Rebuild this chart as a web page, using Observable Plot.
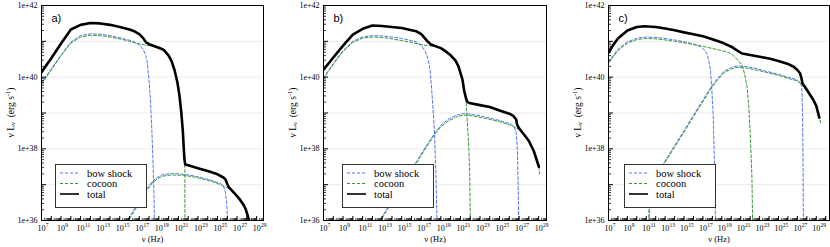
<!DOCTYPE html>
<html><head><meta charset="utf-8">
<script src="https://cdn.jsdelivr.net/npm/d3@7"></script>
<script src="https://cdn.jsdelivr.net/npm/@observablehq/plot@0.6"></script>
<style>
body{margin:0;background:#fff;}
#chart{position:relative;width:830px;height:247px;overflow:hidden;background:#fff;}
.panel{position:absolute;top:0;}
.panel svg{max-width:none !important;display:block;}
</style></head><body><div id="chart"></div>
<script>
// ---- data: [log10(nu / Hz), log10(nu L_nu / erg s^-1)] ----
const aTotal = [[7,40.14],[8,40.53],[9,40.94],[10,41.33],[11,41.46],[12,41.51],[13,41.5],[14,41.46],[15,41.4],[16,41.33],[16.5,41.28],[17,41.2],[17.4,41.09],[17.7,40.97],[18,40.92],[18.5,40.87],[19,40.82],[19.5,40.76],[20,40.6],[20.3,40.45],[20.6,40.2],[20.9,39.85],[21.1,39.5],[21.3,39.0],[21.45,38.5],[21.55,38.0],[21.62,37.7],[21.7,37.56],[22,37.54],[23,37.46],[24,37.38],[25,37.29],[25.6,37.2],[25.8,37.15],[26.0,37.02],[26.15,36.93],[26.6,36.8],[27.0,36.68],[27.35,36.56],[27.7,36.42],[27.9,36.3],[28.1,36.12],[28.25,35.95],[28.35,35.8]];
const aBowSync = [[7,39.84],[8,40.23],[9,40.62],[10,40.98],[11,41.16],[12,41.21],[13,41.2],[14,41.16],[15,41.1],[16,41.03],[16.5,40.98],[17,40.9],[17.4,40.78],[17.65,40.6],[17.8,40.44],[18,39.9],[18.15,39.33],[18.3,38.4],[18.42,37.48],[18.5,36.7],[18.56,35.8]];
const aBowIC = [[15.6,35.93],[16.5,36.32],[17.2,36.63],[17.8,36.89],[18.3,37.08],[18.83,37.2],[19.3,37.27],[19.85,37.3],[20.5,37.31],[21.5,37.29],[22.5,37.25],[23.3,37.2],[24.3,37.13],[25.3,37.03],[25.6,36.97],[25.8,36.78],[25.95,36.45],[26.05,35.8]];
const aCocSync = [[7,39.8],[8,40.2],[9,40.6],[10,40.95],[11,41.12],[12,41.17],[13,41.16],[14,41.12],[15,41.07],[16,41.0],[17,40.93],[17.5,40.9],[18,40.88],[18.5,40.85],[19,40.8],[19.5,40.74],[20,40.58],[20.3,40.44],[20.6,40.19],[20.9,39.84],[21.1,39.49],[21.3,38.99],[21.45,38.49],[21.55,37.99],[21.62,37.69],[21.66,37.55],[21.67,35.8]];
const aCocIC = [[15.75,35.93],[16.5,36.27],[17.2,36.58],[17.8,36.85],[18.3,37.04],[18.83,37.16],[19.3,37.23],[19.85,37.26],[20.5,37.27],[21.5,37.26],[22.5,37.22],[23.3,37.17],[24.3,37.1],[25.3,37.0],[25.6,36.96],[26.15,36.9],[26.6,36.78],[27.0,36.66],[27.35,36.54],[27.7,36.4],[27.9,36.28],[28.1,36.1],[28.25,35.93],[28.35,35.8]];

const bTotal = [[7,40.21],[8,40.55],[9,40.88],[10,41.19],[11,41.35],[12,41.44],[13,41.43],[14,41.4],[15,41.37],[16,41.31],[16.5,41.28],[17,41.2],[17.35,41.09],[17.7,40.98],[18,40.91],[18.5,40.86],[19,40.81],[19.5,40.72],[20,40.61],[20.5,40.46],[20.8,40.3],[21,40.12],[21.2,39.94],[21.4,39.6],[21.55,39.43],[21.7,39.31],[21.9,39.28],[23,39.22],[24,39.17],[25,39.07],[26,38.98],[26.4,38.92],[26.7,38.82],[26.8,38.67],[27,38.57],[27.5,38.4],[28,38.22],[28.5,37.94],[29.02,37.5]];
const bBowSync = [[7,39.98],[8,40.38],[9,40.74],[10,41.0],[11,41.12],[12,41.16],[13,41.15],[14,41.12],[15,41.08],[16,41.02],[16.5,40.98],[17,40.88],[17.4,40.72],[17.7,40.5],[17.9,40.2],[18.05,39.7],[18.2,39.1],[18.36,38.41],[18.5,37.2],[18.62,35.8]];
const bBowIC = [[12.6,35.94],[13.5,36.33],[14.5,36.77],[15.5,37.2],[16.5,37.64],[17.5,38.08],[18.36,38.43],[19,38.66],[19.73,38.82],[20.5,38.93],[21.27,38.98],[22,38.97],[23,38.92],[23.83,38.87],[25,38.79],[26.2,38.69],[26.5,38.62],[26.7,38.45],[26.82,38.0],[26.9,37.0],[26.97,35.8]];
const bCocSync = [[7,39.96],[8,40.36],[9,40.72],[10,40.97],[11,41.09],[12,41.12],[13,41.11],[14,41.07],[15,41.02],[16,40.97],[17,40.91],[18,40.87],[18.5,40.85],[19,40.8],[19.5,40.71],[20,40.6],[20.5,40.45],[20.8,40.29],[21,40.11],[21.2,39.93],[21.4,39.59],[21.55,39.42],[21.65,39.0],[21.78,38.41],[21.88,37.9],[21.95,37.3],[22.02,35.8]];
const bCocIC = [[12.75,35.95],[13.5,36.29],[14.5,36.73],[15.5,37.16],[16.5,37.6],[17.5,38.04],[18.36,38.4],[19,38.62],[19.73,38.77],[20.5,38.88],[21.27,38.94],[22,38.93],[23,38.88],[23.83,38.83],[25,38.76],[26.2,38.65],[26.7,38.58],[27,38.55],[27.5,38.39],[28,38.21],[28.5,37.93],[29.02,37.5],[29.1,37.3]];

const cTotal = [[7,40.68],[7.5,40.9],[8,41.08],[9,41.3],[10,41.4],[10.8,41.42],[12,41.4],[13,41.36],[14,41.31],[15,41.25],[16,41.2],[17,41.14],[18,41.06],[19,40.97],[20,40.85],[20.6,40.75],[21.14,40.66],[22,40.62],[23,40.57],[24,40.52],[25,40.45],[26,40.37],[26.6,40.29],[27,40.2],[27.28,40.11],[27.45,39.95],[27.53,39.83],[28,39.65],[28.68,39.37],[29,39.2],[29.32,38.87]];
const cBowSync = [[7,40.43],[8,40.78],[9,40.98],[10,41.09],[11,41.12],[12,41.11],[13,41.08],[14,41.04],[15,40.99],[16,40.93],[16.75,40.85],[17.2,40.75],[17.46,40.64],[17.65,40.42],[17.8,40.2],[17.95,39.6],[18.09,38.91],[18.2,37.8],[18.28,36.8],[18.34,35.8]];
const cBowIC = [[11.3,35.8],[11.3,36.95],[12.89,37.62],[14,38.09],[15,38.51],[16,38.94],[17,39.36],[17.8,39.7],[18.5,39.95],[19.2,40.16],[20,40.27],[20.6,40.31],[21.5,40.3],[22.5,40.25],[23.77,40.16],[25,40.08],[26,40.0],[26.93,39.93],[27.3,39.85],[27.46,39.74],[27.55,39.0],[27.6,37.5],[27.64,35.8]];
const cCocSync = [[7,40.39],[8,40.74],[9,40.95],[10,41.05],[11,41.08],[12,41.07],[13,41.04],[14,41.0],[15,40.96],[16,40.91],[17,40.86],[18,40.8],[19,40.74],[19.5,40.71],[20,40.65],[20.5,40.53],[21.14,40.34],[21.4,40.1],[21.67,39.74],[21.85,39.2],[22.0,38.45],[22.1,37.8],[22.19,37.16],[22.27,35.8]];
const cCocIC = [[11.3,35.8],[11.3,36.93],[12.89,37.58],[14,38.05],[15,38.47],[16,38.9],[17,39.32],[17.8,39.66],[18.5,39.91],[19.2,40.12],[20,40.23],[20.6,40.27],[21.5,40.26],[22.5,40.21],[23.77,40.13],[25,40.05],[26,39.97],[26.9,39.9],[27.46,39.8],[28,39.63],[28.68,39.36],[29,39.19],[29.32,38.86],[29.46,38.73]];

// ---- tick / label values ----
const xLabelExps = [7,9,11,13,15,17,19,21,23,25,27,29];
const xDecadeExps = d3.range(7, 31);
const yLabelExps = [36,38,40,42];
const yDecadeExps = d3.range(36, 43);
const gridExps = [37,38,39,40,41];
const seriesNames = ["bow shock", "cocoon", "total"];
const panelLabels = ["a)", "b)", "c)"];
const xTitle = "ν (Hz)";

const H = 247, MT = 5, MB = 27;
const BLUE = "#5475f5", GREEN = "#389838";
const DASH = "3,2";

const panels = [
  {label: panelLabels[0], left: 0,   width: 280, ml: 41, mr: 17, xMax: 29.7, lgx: 14, total: aTotal, bow: [aBowSync, aBowIC], coc: [aCocSync, aCocIC]},
  {label: panelLabels[1], left: 280, width: 277, ml: 43, mr: 11, xMax: 29.8, lgx: 19, total: bTotal, bow: [bBowSync, bBowIC], coc: [bCocSync, bCocIC]},
  {label: panelLabels[2], left: 557, width: 273, ml: 51, mr: 1,  xMax: 30.4, lgx: 16, total: cTotal, bow: [cBowSync, cBowIC], coc: [cCocSync, cCocIC]}
];

const minorTicks = (exps) => exps.slice(0, -1).flatMap(e => d3.range(2, 10).map(m => m * 10 ** e));
const toXY = arr => arr.map(([n, l]) => ({nu: 10 ** n, L: 10 ** l}));

function makePanel(p) {
  const fw = p.width - p.ml - p.mr, fh = H - MT - MB;
  const xMax = 10 ** p.xMax;
  const line = (arr, stroke, dash, sw) => Plot.line(toXY(arr), {x: "nu", y: "L", stroke, strokeWidth: sw, strokeDasharray: dash, clip: true, strokeLinejoin: "round"});
  const svg = Plot.plot({
    width: p.width, height: H,
    marginLeft: p.ml, marginRight: p.mr, marginTop: MT, marginBottom: MB,
    x: {type: "log", domain: [1e7, xMax], axis: null},
    y: {type: "log", domain: [1e36, 1e42], axis: null},
    style: {fontFamily: "'Liberation Serif', 'Times New Roman', serif", fontSize: "8px", background: "white", color: "#000"},
    marks: [
      Plot.ruleY(gridExps.map(e => 10 ** e), {stroke: "#ebebeb", strokeWidth: 1}),
      line(p.bow[0], BLUE, DASH, 1),
      line(p.bow[1], BLUE, DASH, 1),
      line(p.coc[0], GREEN, DASH, 1),
      line(p.coc[1], GREEN, DASH, 1),
      line(p.total, "#000", null, 2.6),
      Plot.tickY(minorTicks(yDecadeExps), {y: d => d, insetRight: fw - 3, stroke: "#000", strokeWidth: 0.8}),
      Plot.tickY(yDecadeExps.map(e => 10 ** e), {y: d => d, insetRight: fw - 5, stroke: "#000"}),
      Plot.tickX(minorTicks(xDecadeExps).filter(v => v <= xMax), {x: d => d, insetTop: fh - 2, stroke: "#000", strokeWidth: 0.7}),
      Plot.tickX(xDecadeExps.map(e => 10 ** e).filter(v => v <= xMax), {x: d => d, insetTop: fh - 4, stroke: "#000"}),
      Plot.frame({stroke: "#000", strokeWidth: 1}),
      Plot.axisY({ticks: yLabelExps.map(e => 10 ** e), tickSize: 0, tickPadding: 4, tickFormat: d => "1e+" + Math.round(Math.log10(d)), label: null, fontSize: 8}),
      Plot.text(xLabelExps, {x: e => 10 ** e, frameAnchor: "bottom", dy: 10, text: () => "10", fontSize: 8, textAnchor: "middle"}),
      Plot.text(xLabelExps, {x: e => 10 ** e, frameAnchor: "bottom", dy: 6, dx: 4.3, text: e => String(e), fontSize: 5.5, textAnchor: "start"}),
      Plot.text([xTitle], {frameAnchor: "bottom", dy: 21, text: d => d, fontSize: 8.5}),
      Plot.text([p.label], {frameAnchor: "top-left", dx: 10, dy: 9, text: d => d, fontFamily: "'Liberation Sans', Arial, sans-serif", fontSize: 11, textAnchor: "start"})
    ]
  });
  const s = d3.select(svg);
  // y-axis title with subscript / superscript
  const t = s.append("text")
    .attr("transform", `translate(${p.ml - 29},${MT + fh / 2}) rotate(-90)`)
    .attr("text-anchor", "middle")
    .attr("dominant-baseline", "middle")
    .style("font-family", "'Liberation Serif', serif").style("font-size", "9.5px").attr("fill", "#000");
  t.append("tspan").text("ν L");
  t.append("tspan").attr("font-size", "6.5px").attr("dy", "2").text("ν");
  t.append("tspan").attr("dy", "-2").text("\u00a0\u00a0(erg s");
  t.append("tspan").attr("font-size", "6.5px").attr("dy", "-3").text("-1");
  t.append("tspan").attr("dy", "3").text(")");
  // legend box
  const lx = p.ml + p.lgx, ly = 164;
  const g = s.append("g");
  g.append("rect").attr("x", lx + 0.5).attr("y", ly + 0.5).attr("width", 91).attr("height", 43)
    .attr("fill", "#fff").attr("stroke", "#333").attr("stroke-width", 1);
  const rows = [
    {name: seriesNames[0], stroke: BLUE, dash: DASH, w: 1, y: ly + 9},
    {name: seriesNames[1], stroke: GREEN, dash: DASH, w: 1, y: ly + 19.5},
    {name: seriesNames[2], stroke: "#000", dash: null, w: 1.6, y: ly + 30}
  ];
  rows.forEach(r => {
    const ln = g.append("line").attr("x1", lx + 5).attr("x2", lx + 24).attr("y1", r.y).attr("y2", r.y)
      .attr("stroke", r.stroke).attr("stroke-width", r.w);
    if (r.dash) ln.attr("stroke-dasharray", r.dash);
    g.append("text").attr("x", lx + 32).attr("y", r.y).attr("dy", "0.35em")
      .attr("text-anchor", "start")
      .style("font-family", "'Liberation Serif', serif").style("font-size", "10.5px").attr("fill", "#000").text(r.name);
  });
  return svg;
}

const chart = document.getElementById("chart");
panels.forEach(p => {
  const div = document.createElement("div");
  div.className = "panel";
  div.style.left = p.left + "px";
  div.style.width = p.width + "px";
  div.appendChild(makePanel(p));
  chart.appendChild(div);
});
</script>
</body></html>
